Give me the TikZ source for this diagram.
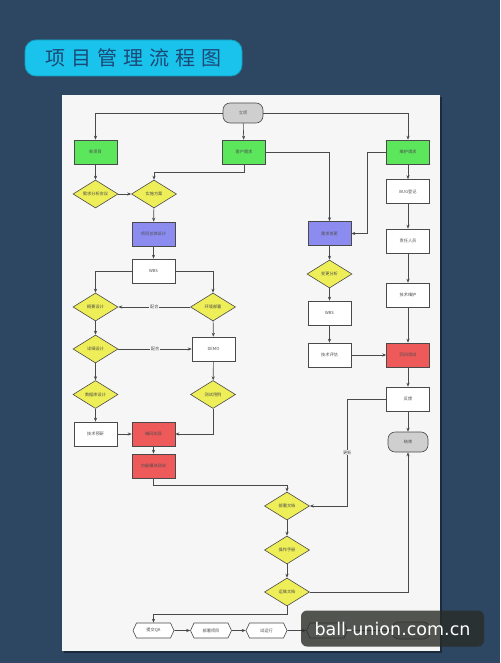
\documentclass[tikz,border=0pt]{standalone}
\usepackage{fontspec}
\setmainfont{Noto Sans CJK SC}
\newfontfamily\markfont{DejaVu Sans}
\usepackage{xcolor}
\usepackage{tikz}
\usetikzlibrary{shapes.geometric, shapes.misc, shapes.symbols, arrows.meta}
\definecolor{bgblue}{HTML}{2D4762}
\definecolor{pillcyan}{HTML}{19C3EC}
\definecolor{titleblue}{HTML}{1D4876}
\definecolor{paper}{HTML}{F7F6F6}
\definecolor{boxgreen}{HTML}{5BE65B}
\definecolor{boxpurple}{HTML}{8C8CF0}
\definecolor{boxyellow}{HTML}{EEEE58}
\definecolor{boxred}{HTML}{EE5A5A}
\definecolor{boxgray}{HTML}{CFCFCF}
\definecolor{linegray}{HTML}{4A4A4A}
\definecolor{markbg}{HTML}{282C26}

\begin{document}
\begin{tikzpicture}[x=1pt, y=-1pt,
    every node/.style={font=\fontsize{4.2}{5}\selectfont, text=black!70},
    box/.style={draw=linegray, line width=0.6pt, rectangle, minimum width=43pt, minimum height=24pt, inner sep=0pt, fill=white},
    greenbox/.style={box, fill=boxgreen},
    purplebox/.style={box, fill=boxpurple},
    redbox/.style={box, fill=boxred},
    decide/.style={draw=linegray, line width=0.6pt, diamond, aspect=1.6, minimum width=45pt, minimum height=28pt, inner sep=0pt, fill=boxyellow},
    term/.style={draw=linegray, line width=0.6pt, rounded corners=7pt, minimum width=40pt, minimum height=20pt, inner sep=0pt, fill=boxgray},
    stage/.style={draw=linegray, line width=0.6pt, signal, signal to=east and west, signal pointer angle=130, minimum width=41pt, minimum height=15pt, inner sep=0pt, fill=white},
    arr/.style={-{Stealth[length=4pt, width=3.2pt]}, draw=linegray, line width=0.6pt},
    tag/.style={fill=paper, inner sep=1pt}]

    \useasboundingbox (0,0) rectangle (500,663);
    \fill[bgblue] (0,0) rectangle (500,663);
    \fill[black!40!bgblue] (64,97) rectangle (442,653);
    \fill[paper] (62,95) rectangle (440,651);

    \node[fill=pillcyan, draw=pillcyan!80!black, line width=0.8pt, rounded corners=11pt, minimum width=217pt, minimum height=36pt, text=titleblue, font=\fontsize{20}{24}\selectfont] (title) at (133.5,58) {项\hspace{6pt}目\hspace{6pt}管\hspace{6pt}理\hspace{6pt}流\hspace{6pt}程\hspace{6pt}图};

    \node[term] (start) at (243,113) {立项};
    \node[greenbox] (new) at (95.5,152) {新项目};
    \node[greenbox] (cust) at (244,152) {客户需求};
    \node[greenbox] (maint) at (408,152) {维护请求};

    \node[decide] (meet) at (95.5,194) {需求分析会议};
    \node[decide] (plan) at (154,194) {实施方案};
    \node[purplebox] (design) at (153.5,234) {项目总体设计};
    \node[box] (wbsa) at (153.5,271) {WBS};
    \node[decide] (outline) at (95.5,307) {概要设计};
    \node[decide] (env) at (213,307) {环境部署};
    \node[decide] (detail) at (95.5,349) {详细设计};
    \node[box] (demo) at (213.5,349) {DEMO};
    \node[decide] (db) at (95.5,394.5) {数据库设计};
    \node[decide] (testcase) at (213,394.5) {测试用例};
    \node[box] (prestudy) at (95.5,434) {技术预研};
    \node[redbox] (code) at (153.5,434) {编码实现};
    \node[redbox] (modtest) at (153.5,466) {功能模块测试};

    \node[purplebox] (change) at (329.5,233.5) {需求变更};
    \node[decide] (analysis) at (329.5,274) {变更分析};
    \node[box] (wbsb) at (329.5,313) {WBS};
    \node[box] (techeval) at (329.5,355) {技术评估};

    \node[box] (bug) at (408,191.5) {BUG登记};
    \node[box] (resp) at (408,241) {责任人员};
    \node[box] (techmaint) at (408,295) {技术维护};
    \node[redbox] (regress) at (408,355) {回归测试};
    \node[box] (feedback) at (408,399) {反馈};
    \node[term] (finish) at (408,442) {结束};

    \node[decide] (deploydoc) at (287,506) {部署文档};
    \node[decide] (manual) at (287,550) {操作手册};
    \node[decide] (opsdoc) at (287,592) {运维文档};

    \node[stage] (qa) at (153.5,630.5) {提交QA};
    \node[stage] (deploy) at (211,630.5) {部署项目};
    \node[stage] (trial) at (266.5,630.5) {试运行};
    \node[stage] (accept) at (327,630.5) {};
    \node[term, minimum width=38pt, minimum height=17pt] (close) at (411,630.5) {};

    \draw[arr] (start.west) -| (new.north);
    \draw[arr] (start.east) -| (maint.north);
    \draw[arr] (start) -- (cust);
    \draw[arr] (new) -- (meet);
    \draw[arr] (meet) -- (plan);
    \draw[arr] (cust.south) -- ++(0,8) -| (plan.north);
    \draw[arr] (plan) -- (design);
    \draw[arr] (design) -- (wbsa);
    \draw[arr] (wbsa.west) -| (outline.north);
    \draw[arr] (wbsa.east) -| (env.north);
    \draw[arr] (env) -- node[tag] {配合} (outline);
    \draw[arr] (outline) -- (detail);
    \draw[arr] (detail) -- node[tag] {配合} (demo);
    \draw[arr] (env) -- (demo);
    \draw[arr] (detail) -- (db);
    \draw[arr] (db) -- (prestudy);
    \draw[arr] (demo) -- (testcase);
    \draw[arr] (prestudy) -- (code);
    \draw[arr] (testcase.south) |- (code.east);
    \draw[arr] (code) -- (modtest);
    \draw[arr] (modtest.south) -- ++(0,7) -| (deploydoc.north);

    \draw[arr] (cust.east) -| (change.north);
    \draw[arr] (maint.west) -- ++(-19,0) |- (change.east);
    \draw[arr] (change) -- (analysis);
    \draw[arr] (analysis) -- (wbsb);
    \draw[arr] (wbsb) -- (techeval);
    \draw[arr] (techeval) -- (regress);

    \draw[arr] (maint) -- (bug);
    \draw[arr] (bug) -- (resp);
    \draw[arr] (resp) -- (techmaint);
    \draw[arr] (techmaint) -- (regress);
    \draw[arr] (regress) -- (feedback);
    \draw[arr] (feedback) -- (finish);
    \draw[arr] (feedback.west) -- ++(-39,0) |- node[tag, pos=0.25] {更新} (deploydoc.east);

    \draw[arr] (deploydoc) -- (manual);
    \draw[arr] (manual) -- (opsdoc);
    \draw[arr] (opsdoc.east) -| (finish.south);
    \draw[arr] (opsdoc.south) -- ++(0,8) -| (qa.north);
    \draw[arr] (qa) -- (deploy);
    \draw[arr] (deploy) -- (trial);
    \draw[arr] (trial) -- (accept);
    \draw[arr] (accept) -- (close);

    \node[fill=markbg, fill opacity=0.8, text opacity=1, rounded corners=6pt, minimum width=183pt, minimum height=36pt, text=white, font=\markfont\fontsize{17.5}{20}\selectfont] (mark) at (392.5,628.5) {ball-union.com.cn};
\end{tikzpicture}
\end{document}
